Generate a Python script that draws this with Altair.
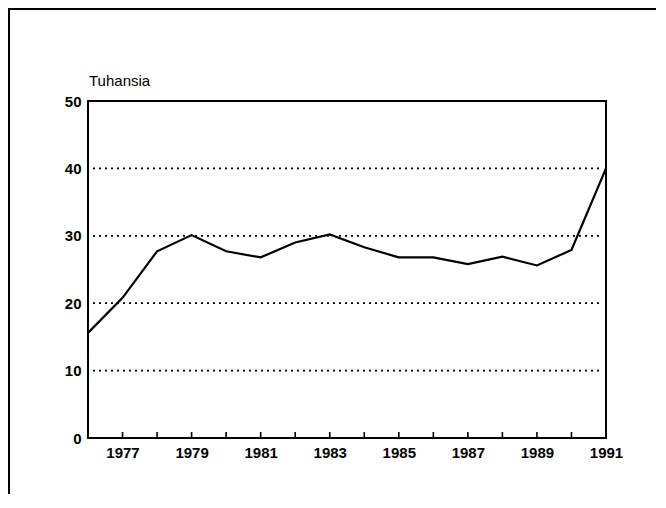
import altair as alt
import pandas as pd

years = list(range(1976, 1992))
values = [15.6, 20.8, 27.7, 30.1, 27.7, 26.8, 29.0, 30.2, 28.3, 26.8, 26.8, 25.8, 26.9, 25.6, 27.9, 40.0]
grid_values = [10, 20, 30, 40]
tick_years = list(range(1977, 1991))
label_years = [1977, 1979, 1981, 1983, 1985, 1987, 1989, 1991]
y_ticks = [0, 10, 20, 30, 40, 50]
y_title = "Tuhansia"

df = pd.DataFrame({"year": years, "value": values})
grid_df = pd.DataFrame({"g": grid_values})
tick_df = pd.DataFrame({"year": tick_years})

FONT = "Liberation Sans"

xscale = alt.Scale(domain=[1976, 1991], nice=False, zero=False)
yscale = alt.Scale(domain=[0, 50], nice=False)

line = alt.Chart(df).mark_line(color="black", strokeWidth=2.2).encode(
    x=alt.X("year:Q", scale=xscale,
            axis=alt.Axis(values=label_years, format="d", title=None, domain=False,
                          ticks=False, grid=False, labelFontSize=15, labelFont=FONT,
                          labelFontWeight="bold", labelColor="black", labelPadding=7,
                          labelFlush=False)),
    y=alt.Y("value:Q", scale=yscale,
            axis=alt.Axis(values=y_ticks, title=None, domain=False, ticks=False,
                          grid=False, labelFontSize=15, labelFont=FONT,
                          labelFontWeight="bold", labelColor="black", labelPadding=7)),
)

grid = alt.Chart(grid_df).mark_rule(color="black", strokeWidth=1.8, strokeDash=[2, 4]).encode(
    y=alt.Y("g:Q", scale=yscale),
    x=alt.value(5),
    x2=alt.value(512),
)

ticks = alt.Chart(tick_df).mark_rule(color="black", strokeWidth=1.6).encode(
    x=alt.X("year:Q", scale=xscale),
    y=alt.value(337),
    y2=alt.value(331),
)

title_text = alt.Chart(pd.DataFrame({"t": [y_title]})).mark_text(
    align="left", baseline="alphabetic", fontSize=15, font=FONT, color="black"
).encode(text="t:N", x=alt.value(1), y=alt.value(-15))

frame_left = alt.Chart(pd.DataFrame({"a": [0]})).mark_rule(color="black", strokeWidth=2).encode(
    x=alt.value(-79), y=alt.value(-93), y2=alt.value(400)
)
frame_top = alt.Chart(pd.DataFrame({"a": [0]})).mark_rule(color="black", strokeWidth=2).encode(
    x=alt.value(-80), x2=alt.value(600), y=alt.value(-92)
)

chart = alt.layer(grid, ticks, line, title_text, frame_left, frame_top).properties(
    width=518, height=337,
    autosize=alt.AutoSizeParams(type="none"),
    padding={"left": 80, "top": 93, "right": 50, "bottom": 56},
    background="white",
).configure_view(stroke="black", strokeWidth=2)

chart.save("out.html", embed_options={"renderer": "svg", "actions": False})
